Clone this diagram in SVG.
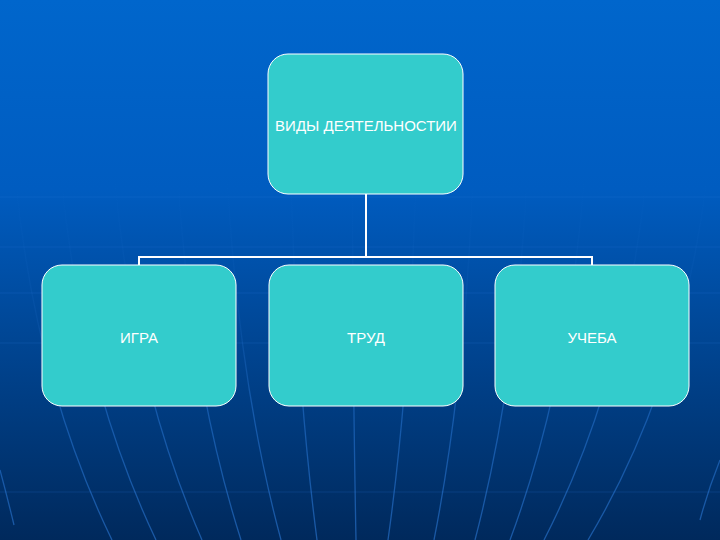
<svg xmlns="http://www.w3.org/2000/svg" width="720" height="540" viewBox="0 0 720 540">
  <defs>
    <linearGradient id="bg" x1="0" y1="0" x2="0" y2="1">
      <stop offset="0" stop-color="#0066CC"/>
      <stop offset="0.35" stop-color="#005CC0"/>
      <stop offset="0.6" stop-color="#004898"/>
      <stop offset="1" stop-color="#00295C"/>
    </linearGradient>
    <linearGradient id="mer" gradientUnits="userSpaceOnUse" x1="0" y1="180" x2="0" y2="540">
      <stop offset="0" stop-color="#2F7FE0" stop-opacity="0"/>
      <stop offset="0.4" stop-color="#2F7FE0" stop-opacity="0.12"/>
      <stop offset="0.65" stop-color="#2F7FE0" stop-opacity="0.45"/>
      <stop offset="1" stop-color="#2F7FE0" stop-opacity="0.55"/>
    </linearGradient>
    <style>
      .node rect { fill: #33CCCC; stroke: #FFFFFF; stroke-width: 1; }
      .node text { fill: #FFFFFF; font-family: "Liberation Sans", Arial, sans-serif; font-size: 15px; text-anchor: middle; }
      .conn { fill: none; stroke: #FFFFFF; stroke-width: 2; }
      .mer { fill: none; stroke: url(#mer); stroke-width: 1.3; }
      .hl { stroke: #2F7FE0; stroke-opacity: 0.2; stroke-width: 1; }
    </style>
  </defs>

  <rect x="0" y="0" width="720" height="540" fill="url(#bg)"/>

  <g id="background-lines">
    <line class="hl" x1="0" y1="197" x2="720" y2="197"/>
    <line class="hl" x1="0" y1="247" x2="720" y2="247"/>
    <line class="hl" x1="0" y1="293" x2="720" y2="293"/>
    <line class="hl" x1="0" y1="343" x2="720" y2="343"/>
    <line class="hl" x1="0" y1="492" x2="720" y2="492"/>
    <path class="mer" d="M15.6,180 Q35.8,383 112,540"/>
    <path class="mer" d="M61.5,180 Q81.3,383 156,540"/>
    <path class="mer" d="M114.9,180 Q133.1,383 202,540"/>
    <path class="mer" d="M178,180 Q191,383 241,540"/>
    <path class="mer" d="M227.3,180 Q238.8,383 281,540"/>
    <path class="mer" d="M291.1,180 Q296.5,383 317,540"/>
    <path class="mer" d="M352.3,180 Q352.9,383 356,540"/>
    <path class="mer" d="M415.8,180 Q410,383 388,540"/>
    <path class="mer" d="M472.9,180 Q464.8,383 434,540"/>
    <path class="mer" d="M526.9,180 Q516,383 475,540"/>
    <path class="mer" d="M584.1,180 Q568.5,383 510,540"/>
    <path class="mer" d="M646,180 Q624.6,383 544,540"/>
    <path class="mer" d="M706.6,180 Q681.7,383 588,540"/>
    <path class="mer" d="M0,470 Q8,500 14,525"/>
    <path class="mer" d="M720,460 Q708,490 700,520"/>
  </g>

  <g id="connectors">
    <path class="conn" d="M366,194 V257"/>
    <path class="conn" d="M139,265 V257 H592 V265"/>
  </g>

  <g id="node-root" class="node">
    <rect x="268" y="54" width="195" height="140" rx="20" ry="20"/>
    <text x="366" y="131">ВИДЫ ДЕЯТЕЛЬНОСТИИ</text>
  </g>
  <g id="node-igra" class="node">
    <rect x="42" y="265" width="194" height="141" rx="20" ry="20"/>
    <text x="139" y="343">ИГРА</text>
  </g>
  <g id="node-trud" class="node">
    <rect x="269" y="265" width="194" height="141" rx="20" ry="20"/>
    <text x="366" y="343">ТРУД</text>
  </g>
  <g id="node-ucheba" class="node">
    <rect x="495" y="265" width="194" height="141" rx="20" ry="20"/>
    <text x="592" y="343">УЧЕБА</text>
  </g>
</svg>
